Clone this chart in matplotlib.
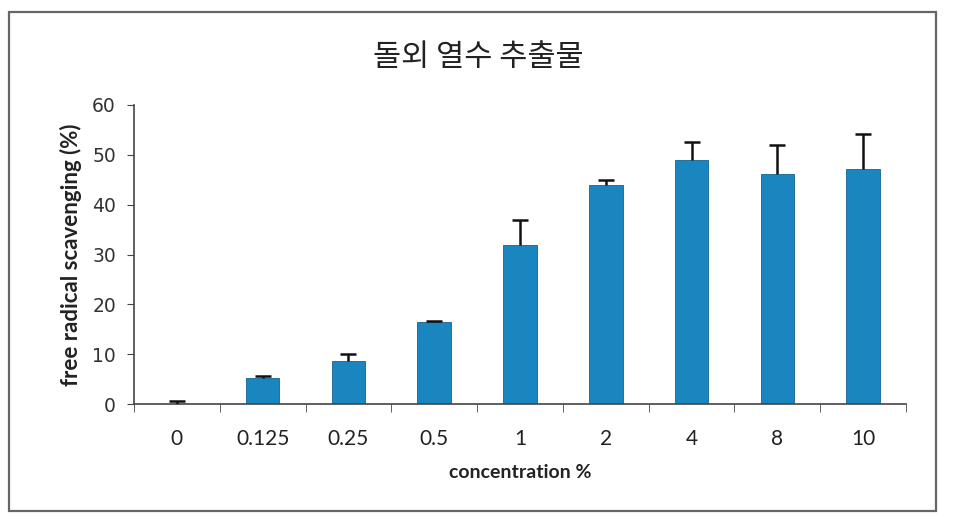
import matplotlib
matplotlib.use("Agg")
import matplotlib.pyplot as plt
from matplotlib.patches import Rectangle

categories = ["0", "0.125", "0.25", "0.5", "1", "2", "4", "8", "10"]
values = [0.0, 5.2, 8.7, 16.4, 31.9, 44.0, 48.9, 46.2, 47.2]
errors = [0.7, 0.4, 1.3, 0.3, 5.1, 1.0, 3.6, 5.7, 7.0]
yticks = [0, 10, 20, 30, 40, 50, 60]

plt.rcParams['font.family'] = ['Noto Sans CJK KR', 'DejaVu Sans']

fig = plt.figure(figsize=(9.57, 5.25), dpi=100)
ax = fig.add_axes([134/957, 1-404/525, (906-134)/957, (404-105)/525])

x = list(range(len(categories)))
ax.bar(x, values, width=0.39, color="#1a86c0", edgecolor="#15648f", linewidth=0.6, zorder=2)
eb = ax.errorbar(x, values, yerr=[[0]*len(errors), errors], fmt="none", ecolor="#111111",
                 elinewidth=1.8, capsize=6, capthick=1.8, zorder=3)
caps = eb[1]
if len(caps) >= 2:
    caps[0].set_visible(False)

ax.set_xlim(-0.5, len(categories)-0.5)
ax.set_ylim(0, 60)
ax.set_yticks(yticks)
ax.set_yticklabels([str(t) for t in yticks], family="DejaVu Sans", fontsize=13.5, color="#333333")
ax.set_xticks(x)
ax.set_xticklabels(categories, family="Lato", fontsize=15, color="#222222")
ax.set_xticks([i + 0.5 for i in range(-1, len(categories))], minor=True)
ax.tick_params(axis="x", which="major", length=0, pad=18)
ax.tick_params(axis="x", which="minor", length=6, direction="out", color="#444444")
ax.tick_params(axis="y", length=5, direction="out", color="#444444", pad=8)
for s in ["top", "right"]:
    ax.spines[s].set_visible(False)
for s in ["left", "bottom"]:
    ax.spines[s].set_color("#444444")
    ax.spines[s].set_linewidth(1.2)

ax.set_ylabel("free radical scavenging (%)", family="Lato", fontsize=16, fontweight="bold", color="#222222", labelpad=7)
ax.set_xlabel("concentration %", family="Lato", fontsize=14, fontweight="bold", color="#222222", labelpad=11)

fig.text(478/957, 1-58/525, "돌외 열수 추출물", ha="center", va="center", fontsize=22,
         family=["Noto Sans CJK KR", "DejaVu Sans"], color="#222222")

fig.patches.append(Rectangle((9/957, 1-511/525), (936-9)/957, (511-12)/525, transform=fig.transFigure,
                             fill=False, edgecolor="#666666", linewidth=1.6))

fig.savefig("out.png", dpi=100)
